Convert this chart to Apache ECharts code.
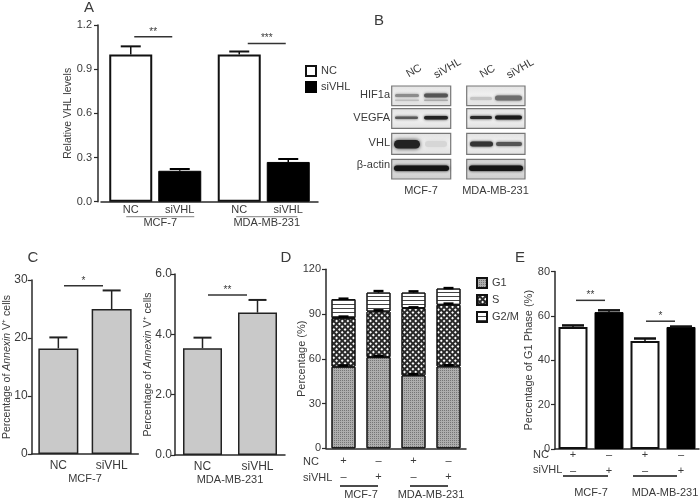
<!DOCTYPE html>
<html><head><meta charset="utf-8">
<script src="https://cdn.jsdelivr.net/npm/echarts@6/dist/echarts.min.js"></script>
<style>html,body{margin:0;padding:0;background:#fff}#c{width:700px;height:501px}</style>
</head><body><div id="c"></div>
<script>
// ---------------- DATA ----------------
// Panel A
const aCats = ['MCF-7', 'MDA-MB-231'];
const aGroups = ['NC', 'siVHL'];
const aNC = [1.00, 1.00], aNCErr = [0.055, 0.02];
const aSi = [0.21, 0.27], aSiErr = [0.012, 0.02];
// Panel C
const cCats = ['NC', 'siVHL'];
const cMCF = [18.2, 25.0], cMCFErr = [1.9, 3.2];
const cMDA = [3.54, 4.72], cMDAErr = [0.35, 0.42];
// Panel D
const dNC = ['+', '\u2013', '+', '\u2013'];
const dSi = ['\u2013', '+', '\u2013', '+'];
const dG1 = [54.7, 61.1, 48.9, 54.9], dG1Err = [0.8, 0.8, 0.8, 0.8];
const dS = [32.6, 30.6, 45.1, 41.3], dSErr = [1.0, 0.8, 0.5, 0.8];
const dG2M = [12.7, 12.7, 10.4, 10.9], dG2MErr = [0.3, 1.0, 0.8, 0.3];
const cellLines = ['MCF-7', 'MDA-MB-231'];
// Panel E
const eVals = [55.0, 61.7, 48.7, 55.0], eErr = [0.7, 0.8, 1.1, 0.2];
// Panel B labels
const blotRows = ['HIF1a', 'VEGFA', 'VHL', '\u03b2-actin'];
const blotLanes = ['NC', 'siVHL'];

// ---------------- STYLE ----------------
const FF = '"Liberation Sans", Arial, Helvetica, sans-serif';
const TXT = '#3a3a3a', AX = '#2a2a2a';
const chart = echarts.init(document.getElementById('c'), null, {renderer: 'canvas'});

const grids = [
  {left: 101, top: 25, width: 217, height: 176.7},
  {left: 31.7, top: 280, width: 106.6, height: 174},
  {left: 175, top: 274, width: 110, height: 181},
  {left: 326, top: 269.3, width: 140, height: 179},
  {left: 555, top: 271.5, width: 144, height: 177.5}
].map(g => Object.assign({outerBoundsMode: 'none', containLabel: false}, g));

function yAx(gi, min, max, itv, fmt, name, gap, fs, margin, offset, nfs) {
  return {type: 'value', gridIndex: gi, min, max, interval: itv, offset: offset || 0,
    axisLine: {show: true, lineStyle: {color: AX, width: 1.5}},
    axisTick: {show: true, length: 4, lineStyle: {color: AX, width: 1.2}},
    splitLine: {show: false},
    axisLabel: {formatter: fmt, fontSize: fs, color: TXT, fontFamily: FF, margin},
    name, nameLocation: 'middle', nameGap: gap, nameRotate: 90, nameMoveOverlap: false,
    nameTextStyle: {fontSize: nfs || 10.5, color: TXT, fontFamily: FF,
      rich: {i: {fontStyle: 'italic', fontSize: nfs || 10.5, color: TXT, fontFamily: FF}}}};
}
function xAx(gi, data, lab, name, nameGap) {
  return {type: 'category', gridIndex: gi, data,
    axisLine: {show: true, onZero: false, lineStyle: {color: AX, width: 1.5}},
    axisTick: {show: false},
    axisLabel: Object.assign({color: TXT, fontFamily: FF, fontSize: 11}, lab),
    name: name || '', nameLocation: 'middle', nameGap: nameGap || 20, nameMoveOverlap: false,
    nameTextStyle: {fontSize: 11, color: TXT, fontFamily: FF}};
}
function errSeries(gi, pts, dx, capW, color, lw) {
  return {type: 'custom', name: 'err' + gi, xAxisIndex: gi, yAxisIndex: gi, data: pts, z: 5, silent: true,
    renderItem: (p, api) => {
      const c = api.value(0), v = api.value(1), e = api.value(2);
      const b = api.coord([c, v]), t = api.coord([c, v + e]);
      const x = b[0] + dx;
      return {type: 'group', children: [
        {type: 'line', shape: {x1: x, y1: b[1], x2: x, y2: t[1]}, style: {stroke: color, lineWidth: 1.5}},
        {type: 'line', shape: {x1: x - capW / 2, y1: t[1], x2: x + capW / 2, y2: t[1]}, style: {stroke: color, lineWidth: lw || 2}}
      ]};
    }};
}
function annSeries(gi, draw) {
  return {type: 'custom', name: 'ann' + gi, xAxisIndex: gi, yAxisIndex: gi, data: [[0, 0]], z: 6, silent: true,
    renderItem: (p, api) => ({type: 'group', children: draw(api)})};
}
function txt(x, y, s, size, align, color) {
  return {type: 'text', x, y, style: {text: s, fill: color || TXT, font: size + 'px ' + FF,
    align: align || 'center', verticalAlign: 'middle'}};
}
function hline(x1, x2, y, color, w) {
  return {type: 'line', shape: {x1, y1: y, x2, y2: y}, style: {stroke: color || '#333', lineWidth: w || 1.5}};
}
function sig(api, xa, xb, yv, s) {
  const y = api.coord([0, yv])[1];
  return [hline(xa, xb, y), txt((xa + xb) / 2, y - 5, s, 10)];
}

// ---------------- SERIES ----------------
const series = [];
// A
series.push({type: 'bar', name: aGroups[0], xAxisIndex: 0, yAxisIndex: 0, data: aNC, barWidth: 43, barGap: '14%',
  itemStyle: {color: '#fff', borderColor: '#111', borderWidth: 2},
  label: {show: true, position: 'bottom', distance: 3, formatter: '{a}', fontSize: 11, color: TXT, fontFamily: FF}});
series.push({type: 'bar', name: aGroups[1], xAxisIndex: 0, yAxisIndex: 0, data: aSi, barWidth: 43,
  itemStyle: {color: '#000', borderColor: '#000', borderWidth: 1},
  label: {show: true, position: 'bottom', distance: 3, formatter: '{a}', fontSize: 11, color: TXT, fontFamily: FF}});
series.push(errSeries(0, aNC.map((v, i) => [i, v, aNCErr[i]]), -24.5, 20, '#111'));
series.push(errSeries(0, aSi.map((v, i) => [i, v, aSiErr[i]]), 24.5, 20, '#000'));
series.push(annSeries(0, api => {
  const out = [];
  const c0 = api.coord([0, 0]), c1 = api.coord([1, 0]);
  out.push(...sig(api, c0[0] - 21, c0[0] + 17, 1.12, '**'));
  out.push(...sig(api, c1[0] - 16, c1[0] + 22, 1.075, '***'));
  [c0, c1].forEach((c, i) => {
    const half = i === 0 ? 34 : 30.5, dx = i === 0 ? 5 : 3;
    out.push(hline(c[0] + dx - half, c[0] + dx + half, c[1] + 15, '#9a9a9a', 1.2));
    out.push(txt(c[0] + dx, c[1] + 21, aCats[i], 11));
  });
  return out;
}));
// C left
series.push({type: 'bar', name: 'C1', xAxisIndex: 1, yAxisIndex: 1, data: cMCF, barWidth: 40,
  itemStyle: {color: '#c9c9c9', borderColor: '#222', borderWidth: 1.5}});
series.push(errSeries(1, cMCF.map((v, i) => [i, v, cMCFErr[i]]), 0, 18, '#222'));
series.push(annSeries(1, api => {
  const a = api.coord([0, 0])[0], b = api.coord([1, 0])[0], m = (a + b) / 2;
  return sig(api, m - 21, m + 18, 29.0, '*');
}));
// C right
series.push({type: 'bar', name: 'C2', xAxisIndex: 2, yAxisIndex: 2, data: cMDA, barWidth: 39,
  itemStyle: {color: '#c9c9c9', borderColor: '#222', borderWidth: 1.5}});
series.push(errSeries(2, cMDA.map((v, i) => [i, v, cMDAErr[i]]), 0, 18, '#222'));
series.push(annSeries(2, api => {
  const a = api.coord([0, 0])[0], b = api.coord([1, 0])[0], m = (a + b) / 2;
  return sig(api, m - 22, m + 17, 5.3, '**');
}));
// D stacked
const decG1 = {symbol: 'rect', symbolSize: 1, dashArrayX: [1, 1], dashArrayY: [1, 1], rotation: 0, color: 'rgba(80,80,80,0.6)'};
const decS = {symbol: 'rect', symbolSize: 1, dashArrayX: [2, 1.4], dashArrayY: [2, 1.4], rotation: Math.PI / 4, color: '#ffffff'};
const decG2 = {symbol: 'rect', symbolSize: 1, dashArrayX: [1, 0], dashArrayY: [1, 3], rotation: 0, color: '#444'};
series.push({type: 'bar', name: 'G1', stack: 'd', xAxisIndex: 3, yAxisIndex: 3, data: dG1, barWidth: 24,
  itemStyle: {color: '#adadad', borderColor: '#111', borderWidth: 1, decal: decG1}});
series.push({type: 'bar', name: 'S', stack: 'd', xAxisIndex: 3, yAxisIndex: 3, data: dS, barWidth: 24,
  itemStyle: {color: '#2a2a2a', borderColor: '#111', borderWidth: 1, decal: decS}});
series.push({type: 'bar', name: 'G2/M', stack: 'd', xAxisIndex: 3, yAxisIndex: 3, data: dG2M, barWidth: 24,
  itemStyle: {color: '#ffffff', borderColor: '#111', borderWidth: 1, decal: decG2}});
const dErrPts = [];
dG1.forEach((v, i) => {
  dErrPts.push([i, v, dG1Err[i]]);
  dErrPts.push([i, v + dS[i], dSErr[i]]);
  dErrPts.push([i, v + dS[i] + dG2M[i], dG2MErr[i]]);
});
series.push(errSeries(3, dErrPts, 0, 10, '#000', 2.5));
series.push(annSeries(3, api => {
  const out = [];
  for (let g = 0; g < 2; g++) {
    const a = api.coord([2 * g, 0]), b = api.coord([2 * g + 1, 0]);
    const m = (a[0] + b[0]) / 2;
    out.push(hline(a[0] - 3.5, b[0] - 0.5, a[1] + 37.7, '#111', 1.5));
    out.push(txt(m, a[1] + 47, cellLines[g], 11));
  }
  return out;
}));
// E
series.push({type: 'bar', name: 'E-NC', xAxisIndex: 4, yAxisIndex: 4, data: eVals.map((v, i) => i % 2 === 0 ? v : '-'),
  barWidth: 29, barGap: '-100%', itemStyle: {color: '#fff', borderColor: '#111', borderWidth: 2}});
series.push({type: 'bar', name: 'E-siVHL', xAxisIndex: 4, yAxisIndex: 4, data: eVals.map((v, i) => i % 2 === 1 ? v : '-'),
  barWidth: 29, barGap: '-100%', itemStyle: {color: '#000', borderColor: '#000', borderWidth: 1}});
series.push(errSeries(4, eVals.map((v, i) => [i, v, eErr[i]]), 0, 22, '#111', 2.5));
series.push(annSeries(4, api => {
  const out = [];
  const c = [0, 1, 2, 3].map(i => api.coord([i, 0]));
  out.push(...sig(api, c[0][0] + 3, c[1][0] - 4, 67, '**'));
  out.push(...sig(api, c[2][0] + 1, c[3][0] - 6, 57.6, '*'));
  for (let g = 0; g < 2; g++) {
    const a = c[2 * g], b = c[2 * g + 1];
    const m = (a[0] + b[0]) / 2;
    out.push(hline(a[0] - (g ? 12 : 10), b[0] - (g ? 4 : 1), a[1] + 27, '#111', 1.5));
    out.push(txt(m + (g ? 2 : 0), a[1] + 44, cellLines[g], 11));
  }
  return out;
}));

// ---------------- GRAPHIC (panel letters, blot) ----------------
const G = [];
function gtext(x, y, s, size, align, rot, color) {
  return {type: 'text', x, y, rotation: rot || 0, silent: true,
    style: {text: s, fill: color || TXT, font: size + 'px ' + FF, align: align || 'center', textAlign: align || 'center',
      verticalAlign: 'middle', textVerticalAlign: 'middle'}};
}
[['A', 89, 8], ['B', 379, 21], ['C', 33, 258], ['D', 286, 258], ['E', 520, 258]].forEach(l => G.push(gtext(l[1], l[2], l[0], 15)));
G.push(gtext(303, 462, 'NC', 11, 'left'));
G.push(gtext(303, 478, 'siVHL', 11, 'left'));
G.push(gtext(533, 455, 'NC', 11, 'left'));
G.push(gtext(533, 470, 'siVHL', 11, 'left'));
const boxCols = [[391.7, 59], [466.7, 58.3]];
const boxRows = [[86, 19.7], [108.7, 19.6], [133.3, 21], [159.3, 19.7]];
boxRows.forEach((r, ri) => boxCols.forEach(c => {
  G.push({type: 'rect', silent: true, shape: {x: c[0], y: r[0], width: c[1], height: r[1]},
    style: {fill: new echarts.graphic.LinearGradient(0, 0, 0, 1, [
      {offset: 0, color: ri === 3 ? '#cfcfcf' : '#e2e2e2'},
      {offset: 0.5, color: ri === 3 ? '#e0e0e0' : '#f3f3f3'},
      {offset: 1, color: ri === 3 ? '#cccccc' : '#e0e0e0'}]), stroke: '#777', lineWidth: 1.2}});
}));
function band(x, y, w, h, color, blur) {
  G.push({type: 'rect', silent: true, shape: {x, y, width: w, height: h, r: h / 2},
    style: {fill: color, shadowBlur: blur || 3, shadowColor: color}});
}
band(395, 94, 24, 3, '#8c8c8c'); band(395, 99.5, 24, 1.6, '#bdbdbd');
band(424, 93.5, 24, 4, '#555'); band(424, 99.5, 24, 1.6, '#aaa');
band(470, 97, 22, 3, '#c4c4c4');
band(495, 95.5, 27, 5, '#6e6e6e');
band(395, 116.5, 23, 2.6, '#5a5a5a');
band(424, 116, 24, 3.5, '#222');
band(470, 116, 22, 3, '#2a2a2a');
band(495, 115.5, 27, 4, '#1a1a1a');
band(394, 140, 26, 8.5, '#222', 4);
band(425, 141, 22, 6, '#d6d6d6', 4);
band(470, 141.5, 23, 5, '#333', 3);
band(496, 142, 26, 4, '#555', 3);
band(394, 165.5, 55, 5.5, '#151515', 3);
band(469, 165.5, 54, 5.5, '#151515', 3);
const rowY = [95, 118.3, 143.3, 165];
blotRows.forEach((s, i) => G.push(gtext(390, rowY[i], s, 11, 'right')));
[[414, 71], [447.5, 68.5], [487.5, 71.5], [520.3, 68.7]].forEach((p, i) =>
  G.push(gtext(p[0], p[1], blotLanes[i % 2], 11, 'center', Math.PI / 6)));
G.push(gtext(421, 191, cellLines[0], 11));
G.push(gtext(495.5, 191, cellLines[1], 11));

// ---------------- OPTION ----------------
const option = {
  animation: false,
  backgroundColor: '#fff',
  textStyle: {fontFamily: FF},
  grid: grids,
  legend: [
    {data: aGroups, left: 305, top: 65, orient: 'vertical', icon: 'rect', itemWidth: 10, itemHeight: 10, itemGap: 4,
      selectedMode: false, textStyle: {fontSize: 11, color: TXT, fontFamily: FF}, padding: 0},
    {data: ['G1', 'S', 'G2/M'], left: 476, top: 277, orient: 'vertical', icon: 'rect', itemWidth: 10, itemHeight: 10, itemGap: 5,
      selectedMode: false, textStyle: {fontSize: 11, color: TXT, fontFamily: FF}, padding: 0}
  ],
  xAxis: [
    xAx(0, aCats, {show: false}),
    xAx(1, cCats, {fontSize: 12, margin: 6}, cellLines[0], 19),
    xAx(2, cCats, {fontSize: 12, margin: 6}, cellLines[1], 19),
    xAx(3, dNC.map((v, i) => String(i)), {formatter: (v, i) => dNC[i] + '\n' + dSi[i], lineHeight: 16, margin: 5}),
    xAx(4, dNC.map((v, i) => String(i)), {formatter: (v, i) => dNC[i] + '\n' + dSi[i], lineHeight: 16, margin: -2})
  ],
  yAxis: [
    yAx(0, 0, 1.2, 0.3, v => v.toFixed(1), 'Relative VHL levels', 24, 11, 6, 3, 10.5),
    yAx(1, 0, 30, 10, v => String(v), 'Percentage of {i|Annexin} V\u207a cells', 19, 12, 4, 0, 10.5),
    yAx(2, 0, 6, 2, v => v.toFixed(1), 'Percentage of {i|Annexin} V\u207a cells', 21, 12, 3, 0, 10.5),
    yAx(3, 0, 120, 30, v => String(v), 'Percentage (%)', 19, 11, 5, 0, 11),
    yAx(4, 0, 80, 20, v => String(v), 'Percentage of G1 Phase (%)', 21, 11, 5, 0, 11)
  ],
  series,
  graphic: {elements: G}
};
chart.setOption(option);
</script>
</body></html>
